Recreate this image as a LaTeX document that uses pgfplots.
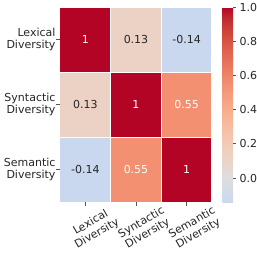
\documentclass[border=0pt]{standalone}
\usepackage{fontspec}
\setmainfont{DejaVu Sans}
\usepackage{pgfplots}
\pgfplotsset{compat=1.18}
\definecolor{txt}{HTML}{262626}
\definecolor{tk}{HTML}{555555}
\newcommand{\lf}{\fontsize{11}{12.5}\selectfont}
\begin{document}
\begin{tikzpicture}
\begin{axis}[
  at={(0,0)}, anchor=north west,
  scale only axis, width=152pt, height=195pt,
  xmin=-0.5, xmax=2.5, ymin=-0.5, ymax=2.5, y dir=reverse,
  axis line style={draw=none},
  xtick={0,1,2}, ytick={0,1,2},
  xticklabels={{Lexical\\Diversity},{Syntactic\\Diversity},{Semantic\\Diversity}},
  yticklabels={{Lexical\\Diversity},{Syntactic\\Diversity},{Semantic\\Diversity}},
  tick align=outside, major tick length=3.5pt,
  tick style={color=tk, line width=0.7pt},
  xtick pos=lower, ytick pos=left,
  xticklabel style={rotate=30, anchor=center, align=center, xshift=-4pt, yshift=-24pt, font=\lf, text=txt},
  yticklabel style={align=right, font=\lf, text=txt, xshift=2.5pt},
  colormap={cw}{
    rgb255(0pt)=(202,216,239)
    rgb255(6pt)=(204,217,238)
    rgb255(31pt)=(213,219,230)
    rgb255(56pt)=(221,221,221)
    rgb255(81pt)=(229,216,209)
    rgb255(106pt)=(236,211,197)
    rgb255(131pt)=(241,204,184)
    rgb255(156pt)=(245,196,172)
    rgb255(181pt)=(247,187,159)
    rgb255(206pt)=(247,177,145)
    rgb255(231pt)=(247,166,133)
    rgb255(256pt)=(244,154,123)
    rgb255(281pt)=(241,141,111)
    rgb255(306pt)=(236,127,99)
    rgb255(331pt)=(229,112,88)
    rgb255(356pt)=(222,96,77)
    rgb255(381pt)=(213,80,66)
    rgb255(406pt)=(203,62,56)
    rgb255(431pt)=(192,40,47)
    rgb255(456pt)=(180,4,38)
  },
  point meta min=-0.14, point meta max=1,
  colorbar,
  colorbar style={
    at={(parent axis.north east)}, anchor=north west, xshift=2pt,
    scale only axis, width=10.5pt, height=195pt,
    axis line style={draw=none},
    ytick={0,0.2,0.4,0.6,0.8,1},
    ytick pos=right, yticklabel pos=right,
    tick align=outside, major tick length=3pt,
    tick style={color=tk, line width=0.7pt},
    yticklabel style={font=\lf, text=txt, /pgf/number format/.cd, fixed, fixed zerofill, precision=1, assume math mode=true},
  },
]
\addplot[matrix plot, mesh/cols=3, point meta=explicit, draw=white, line width=1pt]
  table[meta=c, row sep=\\] {
  x y c \\
  0 0 1 \\
  1 0 0.13 \\
  2 0 -0.14 \\
  0 1 0.13 \\
  1 1 1 \\
  2 1 0.55 \\
  0 2 -0.14 \\
  1 2 0.55 \\
  2 2 1 \\
  };
\addplot[only marks, mark=none, point meta=explicit symbolic, nodes near coords,
  nodes near coords style={anchor=center, font=\lf, text=txt}]
  table[meta=l, row sep=\\] {
  x y l \\
  1 0 0.13 \\
  2 0 -0.14 \\
  0 1 0.13 \\
  0 2 -0.14 \\
  };
\addplot[only marks, mark=none, point meta=explicit symbolic, nodes near coords,
  nodes near coords style={anchor=center, font=\lf, text=white}]
  table[meta=l, row sep=\\] {
  x y l \\
  0 0 1 \\
  1 1 1 \\
  2 1 0.55 \\
  1 2 0.55 \\
  2 2 1 \\
  };
\end{axis}
\pgfresetboundingbox
\path[use as bounding box] (-60pt,7pt) rectangle (197pt,-250pt);
\end{tikzpicture}
\end{document}
